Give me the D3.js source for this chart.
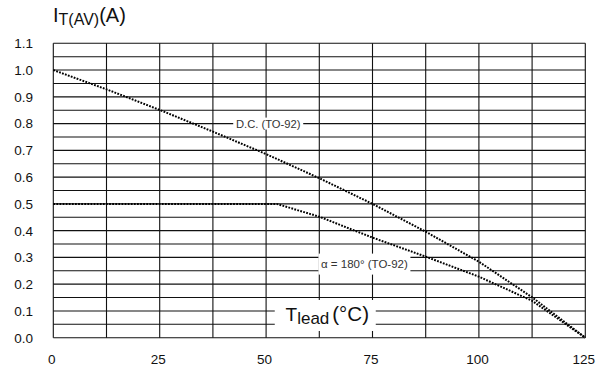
<!DOCTYPE html>
<html>
<head>
<meta charset="utf-8">
<script src="https://cdn.jsdelivr.net/npm/d3@7/dist/d3.min.js"></script>
<style>
  html, body { margin: 0; padding: 0; background: #fff; }
  svg { display: block; font-family: "Liberation Sans", Arial, sans-serif; }
</style>
</head>
<body>
<svg id="chart" width="614" height="369"></svg>
<script>
// Lead temperature (°C) and average on-state current (A)
const tempC = [0, 12.5, 25, 37.5, 50, 62.5, 75, 87.5, 100, 112.5, 125];
const dcCurrent = [1.0, 0.928, 0.851, 0.77, 0.686, 0.596, 0.5, 0.396, 0.284, 0.151, 0];
const alphaTemp = [0, 52.5, 62.5, 75, 87.5, 100, 112.5, 125];
const alphaCurrent = [0.5, 0.5, 0.452, 0.374, 0.303, 0.228, 0.138, 0];

const xTicks = [0, 25, 50, 75, 100, 125];
const yTicks = [0.0, 0.1, 0.2, 0.3, 0.4, 0.5, 0.6, 0.7, 0.8, 0.9, 1.0, 1.1];
const xGrid = d3.range(0, 125.01, 12.5);
const yGrid = d3.range(0, 1.1001, 0.05);

const svg = d3.select("#chart");
const x = d3.scaleLinear().domain([0, 125]).range([53.3, 585.3]);
const y = d3.scaleLinear().domain([0, 1.1]).range([337.7, 43.3]);

// grid
const grid = svg.append("g").attr("stroke", "#111").attr("stroke-width", 1.1);
grid.selectAll("line.v").data(xGrid).join("line")
  .attr("x1", d => x(d)).attr("x2", d => x(d))
  .attr("y1", y(0)).attr("y2", y(1.1));
grid.selectAll("line.h").data(yGrid).join("line")
  .attr("x1", x(0)).attr("x2", x(125))
  .attr("y1", d => y(d)).attr("y2", d => y(d));

// tick labels
svg.append("g").selectAll("text").data(yTicks).join("text")
  .attr("x", 33).attr("y", d => y(d)).attr("dy", "0.36em")
  .attr("text-anchor", "end").attr("font-size", 13.5).attr("fill", "#111")
  .text(d => d.toFixed(1));
svg.append("g").selectAll("text").data(xTicks).join("text")
  .attr("x", d => x(d) - 1.5).attr("y", 364)
  .attr("text-anchor", "middle").attr("font-size", 13.5).attr("fill", "#111")
  .text(d => d);

// curve labels on white boxes
function boxLabel(cx, cy, w, h) {
  svg.append("rect").attr("x", cx - w / 2).attr("y", cy - h / 2)
    .attr("width", w).attr("height", h).attr("fill", "#fff");
}
boxLabel(x(50.5), y(0.8), 70, 12);
svg.append("text").attr("x", x(50.5)).attr("y", y(0.8)).attr("dy", "0.36em")
  .attr("text-anchor", "middle").attr("font-size", 11.2).attr("fill", "#333")
  .text("D.C. (TO-92)");

boxLabel(x(73.1), y(0.275), 92, 21);
svg.append("text").attr("x", x(73.1)).attr("y", y(0.275)).attr("dy", "0.36em")
  .attr("text-anchor", "middle").attr("font-size", 11.5).attr("fill", "#333")
  .text("α = 180° (TO-92)");

// x axis title
boxLabel(x(63.9), y(0.083), 101, 31);
const xt = svg.append("text").attr("x", x(63.9) + 2).attr("y", 321)
  .attr("text-anchor", "middle").attr("fill", "#111");
xt.append("tspan").attr("font-size", 19).text("T");
xt.append("tspan").attr("font-size", 17).attr("dy", 2.5).text("lead");
xt.append("tspan").attr("font-size", 20.5).attr("dy", -2.5).attr("dx", 3).text("(°C)");

// y axis title
const yt = svg.append("text").attr("x", 53).attr("y", 21.7).attr("fill", "#111");
yt.append("tspan").attr("font-size", 20).text("I");
yt.append("tspan").attr("font-size", 16).attr("dy", 3.3).text("T(AV)");
yt.append("tspan").attr("font-size", 20).attr("dy", -3.3).text("(A)");

// curves
const line = d3.line().x(d => x(d[0])).y(d => y(d[1]));
svg.append("path").datum(d3.zip(tempC, dcCurrent))
  .attr("d", line).attr("fill", "none").attr("stroke", "#000")
  .attr("stroke-width", 2).attr("stroke-dasharray", "1.8,1.3");
svg.append("path").datum(d3.zip(alphaTemp, alphaCurrent))
  .attr("d", line).attr("fill", "none").attr("stroke", "#000")
  .attr("stroke-width", 2).attr("stroke-dasharray", "1.8,1.3");
</script>
</body>
</html>
